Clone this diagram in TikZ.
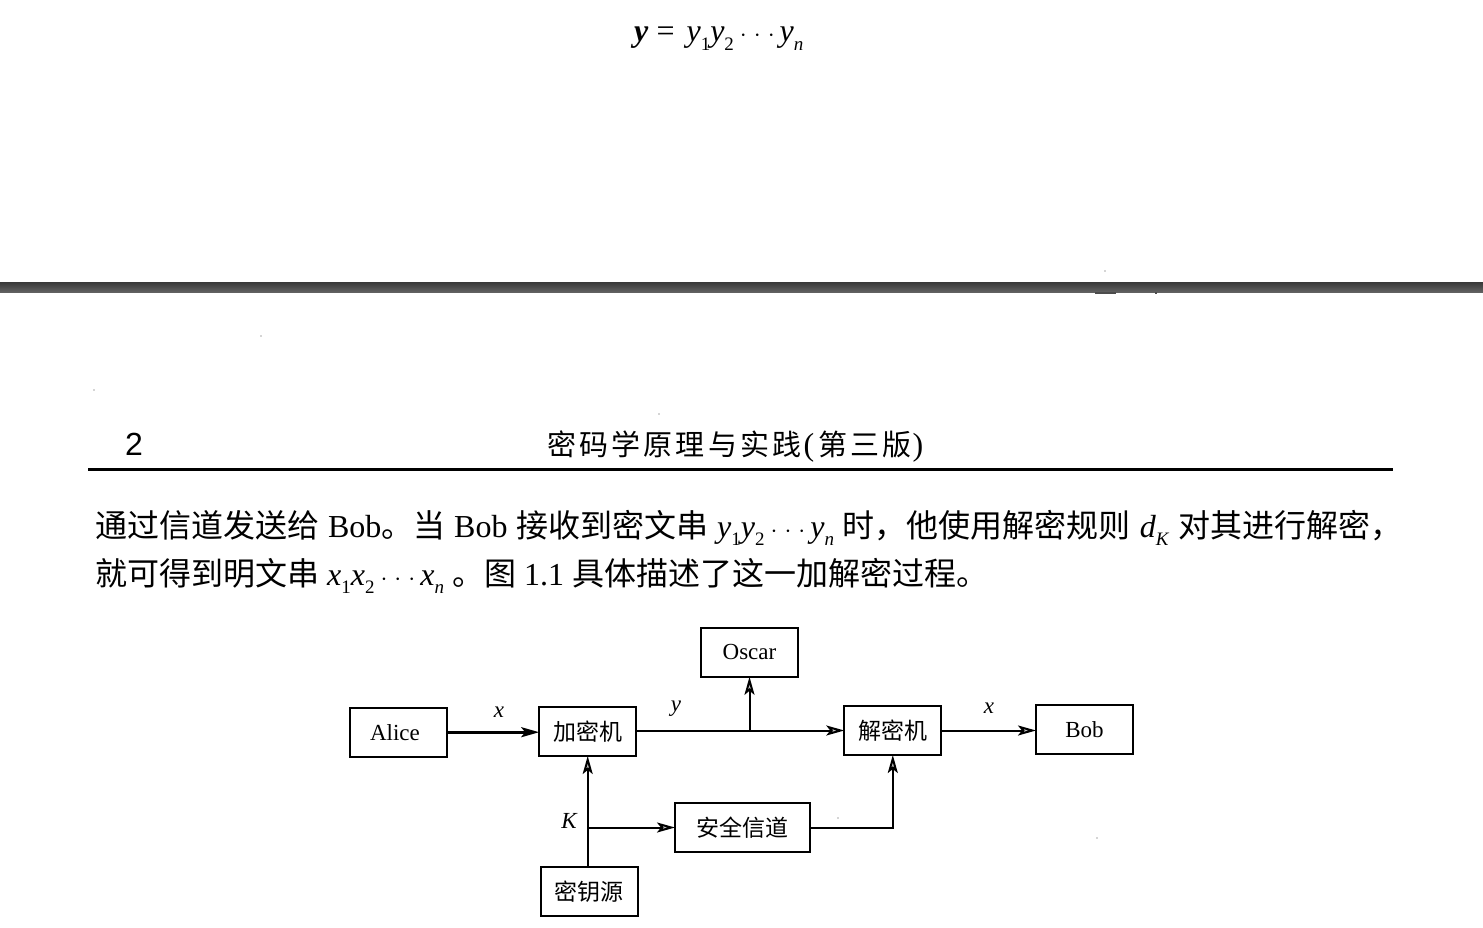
\documentclass[tikz,border=0pt]{standalone}
\usepackage{fontspec}
\setmainfont{Liberation Serif}
\newfontfamily\cjk{Noto Sans CJK SC}
\newfontfamily\cjkwide[LetterSpace=11]{Noto Sans CJK SC}
\newfontfamily\latinsans{Liberation Sans}
\usetikzlibrary{arrows.meta,calc}
\newcommand\sz[1]{\fontsize{#1}{#1}\selectfont}
\newcommand\Cj[1]{{\cjk #1}}
\newcommand\Sb[1]{\raisebox{-.28em}{\sz{19}#1}}
\newcommand\Dots{\kern6pt$\cdot$\kern7pt$\cdot$\kern7pt$\cdot$\kern5pt}
\tikzset{
  inset sep/.style={inner sep=0pt,outer sep=0pt},
  bx/.style={draw=black,line width=2pt,inset sep,minimum width=97pt,minimum height=49pt,font=\sz{23}},
  conn/.style={line width=2pt,-{Stealth[length=18pt,width=10pt,inset=4pt,fill=black!25]}},
  lbl/.style={inner sep=0pt,font=\sz{23}\itshape},
  txt/.style={inner sep=0pt,anchor=base west},
  speck/.style={fill=black!70,circle,inner sep=0pt,minimum size=1.2pt}
}
\begin{document}
\begin{tikzpicture}[x=1pt,y=-1pt]
\useasboundingbox (0,0) rectangle (1483,928);
\fill[white] (0,0) rectangle (1483,928);
% top formula
\node[txt,font=\sz{32}] (formula) at (634,42) {\textbf{\textit{y}}\kern8pt=\kern12pt\textit{y}\Sb{1}\textit{y}\Sb{2}\Dots\textit{y}\Sb{\textit{n}}};
% page seam
\shade[top color=black!78,bottom color=black!62] (0,282) rectangle (1483,292);
\fill[black!70] (1095,292) rectangle (1116,293.5);
\fill[black!70] (1155,292) rectangle (1157,293.5);
% specks
\node[speck] (s1) at (1105,271) {};
\node[speck] (s2) at (261,336) {};
\node[speck] (s3) at (94,390) {};
\node[speck] (s4) at (659,414) {};
\node[speck] (s5) at (838,818) {};
\node[speck] (s6) at (1097,838) {};
% header
\node[txt,font=\sz{32}\latinsans] (pg) at (125,455) {2};
\node[txt,font=\sz{29}] (title) at (547,455) {{\cjkwide 密码学原理与实践}\kern2pt{\sz{32}(}\kern4pt{\cjkwide 第三版}\kern1pt{\sz{32})}};
\draw[line width=3pt] (88,469) -- (1393,469);
% body
\node[txt,font=\sz{32}] (l1) at (95,537) {\makebox[1307pt][s]{\Cj{通过信道发送给} Bob\Cj{。当} Bob \Cj{接收到密文串} \textit{y}\Sb{1}\textit{y}\Sb{2}\Dots\textit{y}\Sb{\textit{n}} \Cj{时，他使用解密规则} \textit{d}\Sb{\textit{K}} \Cj{对其进行解密，}}};
\node[txt,font=\sz{32}] (l2) at (95,585) {\Cj{就可得到明文串} \textit{x}\Sb{1}\textit{x}\Sb{2}\Dots\textit{x}\Sb{\textit{n}} \Cj{。图} 1.1 \Cj{具体描述了这一加解密过程。}};
% diagram
\node[bx] (alice) at (398,732.2) {\kern-6pt Alice};
\node[bx] (enc) at (587.7,731.5) {\Cj{加密机}};
\node[bx] (oscar) at (749.5,652.3) {Oscar};
\node[bx] (dec) at (892.8,730.5) {\Cj{解密机}};
\node[bx] (bob) at (1084.5,729.5) {Bob};
\node[bx,minimum width=135pt] (chan) at (742.5,827.5) {\Cj{安全信道}};
\node[bx] (src) at (589,891.3) {\Cj{密钥源}};
\coordinate (jy) at (oscar.south |- enc.east);
\coordinate (jk) at (enc.south |- chan.west);
\coordinate (cc) at (dec.south |- chan.east);
\draw[conn,line width=2.6pt] (alice.east) -- (alice.east -| enc.west);
\draw[conn] (enc.east |- dec.west) -- (dec.west);
\draw[conn] (jy |- dec.west) -- (oscar.south);
\draw[conn] (dec.east) -- (dec.east -| bob.west);
\draw[conn] (enc.south |- src.north) -- (enc.south);
\draw[conn] (jk) -- (chan.west);
\draw[conn] (chan.east) -- (cc) -- (dec.south);
\node[lbl] (lx1) at (499,712) {x};
\node[lbl] (ly) at (676,709) {y};
\node[lbl] (lx2) at (989,708) {x};
\node[lbl] (lk) at (569,821) {K};
\end{tikzpicture}
\end{document}
